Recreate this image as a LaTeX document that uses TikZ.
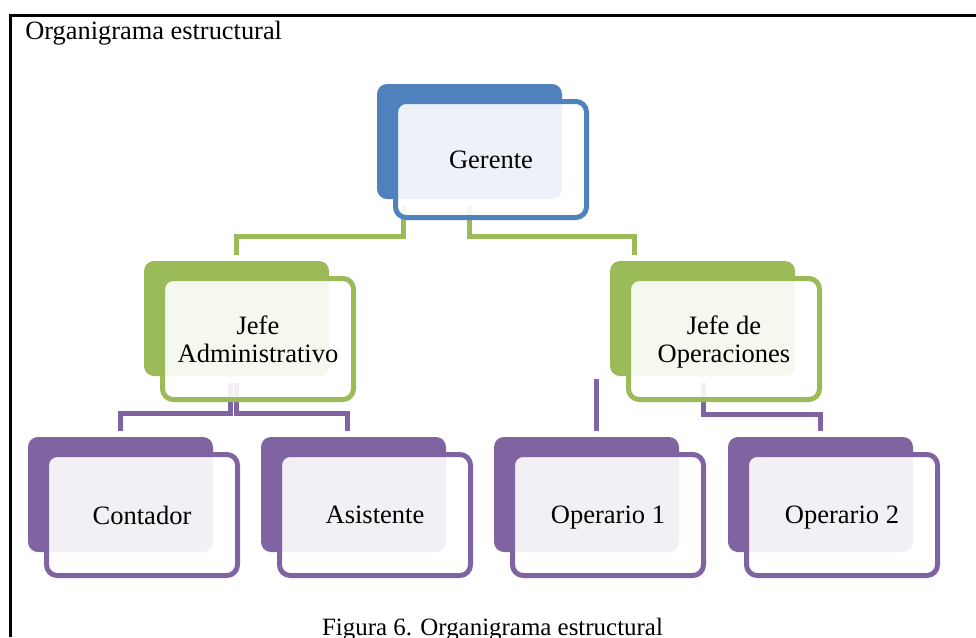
\documentclass[tikz,border=0pt]{standalone}
\usepackage{fontspec}
\setmainfont{Liberation Serif}
\usetikzlibrary{backgrounds,calc}
\definecolor{accBlue}{HTML}{4F81BD}
\definecolor{accGreen}{HTML}{9BBB59}
\definecolor{accPurple}{HTML}{8064A2}
\newcommand\pxu{0.75pt}
\begin{document}
\begin{tikzpicture}[x=0.75pt,y=-0.75pt,
  back/.style={draw=none, fill=#1, rounded corners=7.5pt,
    minimum width=185*\pxu, minimum height=115*\pxu, inner sep=0pt},
  front/.style={draw=#1, line width=3.75pt, fill=white, fill opacity=0.9,
    text opacity=1, rounded corners=8pt, minimum width=191*\pxu,
    minimum height=121*\pxu, inner sep=0pt, align=center, text depth=0pt,
    font=\fontsize{19.9}{21}\selectfont},
  conn/.style={draw=#1, line width=3.75pt, shorten >=4.5pt},
  frame/.style={line width=2.25pt, black, line join=miter}
]
\useasboundingbox (0,0) rectangle (976,637);

% outer frame
\draw[frame] (976,15) -- (10.5,15) -- (10.5,637);
\node[anchor=base west, font=\fontsize{19.8}{22}\selectfont, inner sep=0pt] (title) at (25,39) {Organigrama estructural};

% level 1
\node[back=accBlue] (gerB) at (469.5,141.5) {};
\node[front=accBlue, minimum height=116*\pxu] (ger) at (491,159.5) {Gerente};

% level 2
\node[back=accGreen] (jaB) at (236.5,318.5) {};
\node[front=accGreen] (ja) at (258,339) {Jefe\\Administrativo};
\node[back=accGreen] (joB) at (702.5,318.5) {};
\node[front=accGreen] (jo) at (724,339) {Jefe de\\Operaciones};

% level 3
\node[back=accPurple] (coB) at (120.5,494.5) {};
\node[front=accPurple] (co) at (142,515) {Contador};
\node[back=accPurple] (asB) at (353.5,494.5) {};
\node[front=accPurple] (as) at (375,515) {Asistente};
\node[back=accPurple] (o1B) at (586.5,494.5) {};
\node[front=accPurple] (o1) at (608,515) {Operario 1};
\node[back=accPurple] (o2B) at (820.5,494.5) {};
\node[front=accPurple] (o2) at (842,515) {Operario 2};

% connectors, drawn beneath the boxes
\begin{scope}[on background layer]
  \coordinate (g1) at (403,205);
  \coordinate (g2) at (469,205);
  \coordinate (busG) at (0,236);
  \draw[conn=accGreen] (g1) -- (g1 |- busG) -| (jaB.north);
  \draw[conn=accGreen] (g2) -- (g2 |- busG) -| ($(joB.north)+(-68.5,0)$);

  \coordinate (a1) at (230,383);
  \coordinate (a2) at (236,383);
  \coordinate (busA) at (0,413);
  \draw[conn=accPurple] (a1) -- (a1 |- busA) -| (coB.north);
  \draw[conn=accPurple] (a2) -- (a2 |- busA) -| ($(asB.north)+(-6.5,0)$);

  \coordinate (b1) at (596,379);
  \coordinate (b2) at (703,383);
  \coordinate (busB) at (0,414.5);
  \draw[conn=accPurple] (b1) -- (b1 |- o1B.north);
  \draw[conn=accPurple] (b2) -- (b2 |- busB) -| (o2B.north);
\end{scope}

\node[anchor=base, font=\fontsize{18.7}{20}\selectfont, inner sep=0pt] (caption) at (492.5,635.5) {Figura 6. Organigrama estructural};
\end{tikzpicture}
\end{document}
